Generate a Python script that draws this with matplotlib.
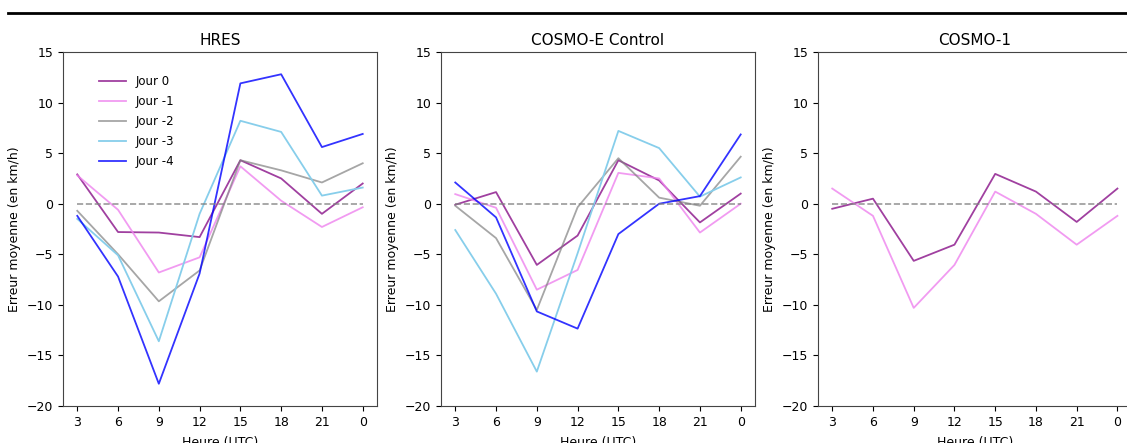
import matplotlib
matplotlib.use("Agg")
import matplotlib.pyplot as plt
from matplotlib.lines import Line2D

# hours (0 UTC drawn at 24)
heures = [3, 6, 9, 12, 15, 18, 21, 24]
heure_labels = ['3', '6', '9', '12', '15', '18', '21', '0']
jours = ['Jour 0', 'Jour -1', 'Jour -2', 'Jour -3', 'Jour -4']
couleurs = ['purple', 'violet', 'gray', 'skyblue', 'blue']

hres = [
    [2.9, -2.8, -2.85, -3.3, 4.3, 2.5, -1.0, 2.0],
    [2.8, -0.6, -6.8, -5.3, 3.7, 0.3, -2.3, -0.35],
    [-0.7, -5.0, -9.65, -6.6, 4.3, 3.3, 2.1, 4.0],
    [-1.5, -5.1, -13.6, -1.0, 8.2, 7.1, 0.8, 1.6],
    [-1.2, -7.2, -17.8, -6.9, 11.9, 12.8, 5.6, 6.9],
]
cosmo_e = [
    [-0.1, 1.15, -6.05, -3.15, 4.3, 2.3, -1.85, 1.0],
    [0.95, -0.4, -8.5, -6.55, 3.05, 2.5, -2.85, 0.0],
    [-0.2, -3.4, -10.5, -0.35, 4.5, 0.6, -0.2, 4.65],
    [-2.6, -8.9, -16.6, -4.9, 7.2, 5.5, 0.7, 2.6],
    [2.1, -1.35, -10.65, -12.35, -3.0, 0.0, 0.75, 6.85],
]
cosmo_1 = [
    [-0.5, 0.5, -5.65, -4.05, 2.95, 1.2, -1.8, 1.5],
    [1.5, -1.2, -10.3, -6.05, 1.2, -1.0, -4.05, -1.2],
]

titres = ['HRES', 'COSMO-E Control', 'COSMO-1']
donnees = [hres, cosmo_e, cosmo_1]
alphas = [0.75, 0.8, 0.7, 1.0, 0.8]

fig = plt.figure(figsize=(11.27, 4.43), dpi=100)
lefts = [0.0559, 0.3913, 0.7258]
# last panel runs past the right edge (cropped in the original)
widths = [0.2786, 0.2786, 0.2886]
xmax = [25.05, 25.05, 25.9]
for i in range(3):
    ax = fig.add_axes([lefts[i], 0.0835, widths[i], 0.7991])
    for j, serie in enumerate(donnees[i]):
        ax.plot(heures, serie, color=couleurs[j], alpha=alphas[j], lw=1.3, label=jours[j])
    ax.hlines(0, 3, 24, colors='gray', linestyles='dashed', alpha=0.8, lw=1.2)
    ax.set_xlim(1.95, xmax[i])
    ax.set_ylim(-20, 15)
    ax.set_xticks(heures)
    ax.set_xticklabels(heure_labels)
    ax.tick_params(labelsize=9)
    cx = 0.5 * widths[0] / widths[i]
    ax.set_title(titres[i], fontsize=11, pad=5, x=cx)
    ax.set_xlabel('Heure (UTC)', fontsize=9, labelpad=5)
    ax.xaxis.label.set_x(cx)
    ax.set_ylabel('Erreur moyenne (en km/h)', fontsize=9)
    for s in ax.spines.values():
        s.set_color('#444444')
    if i == 0:
        ax.legend(loc='upper left', bbox_to_anchor=(0.08, 0.965), frameon=False,
                  fontsize=8.5, handlelength=2.3, labelspacing=0.6)

fig.add_artist(Line2D([0.007, 1.0], [0.971, 0.971], color='black', lw=2))
fig.savefig('out.png', dpi=100)
